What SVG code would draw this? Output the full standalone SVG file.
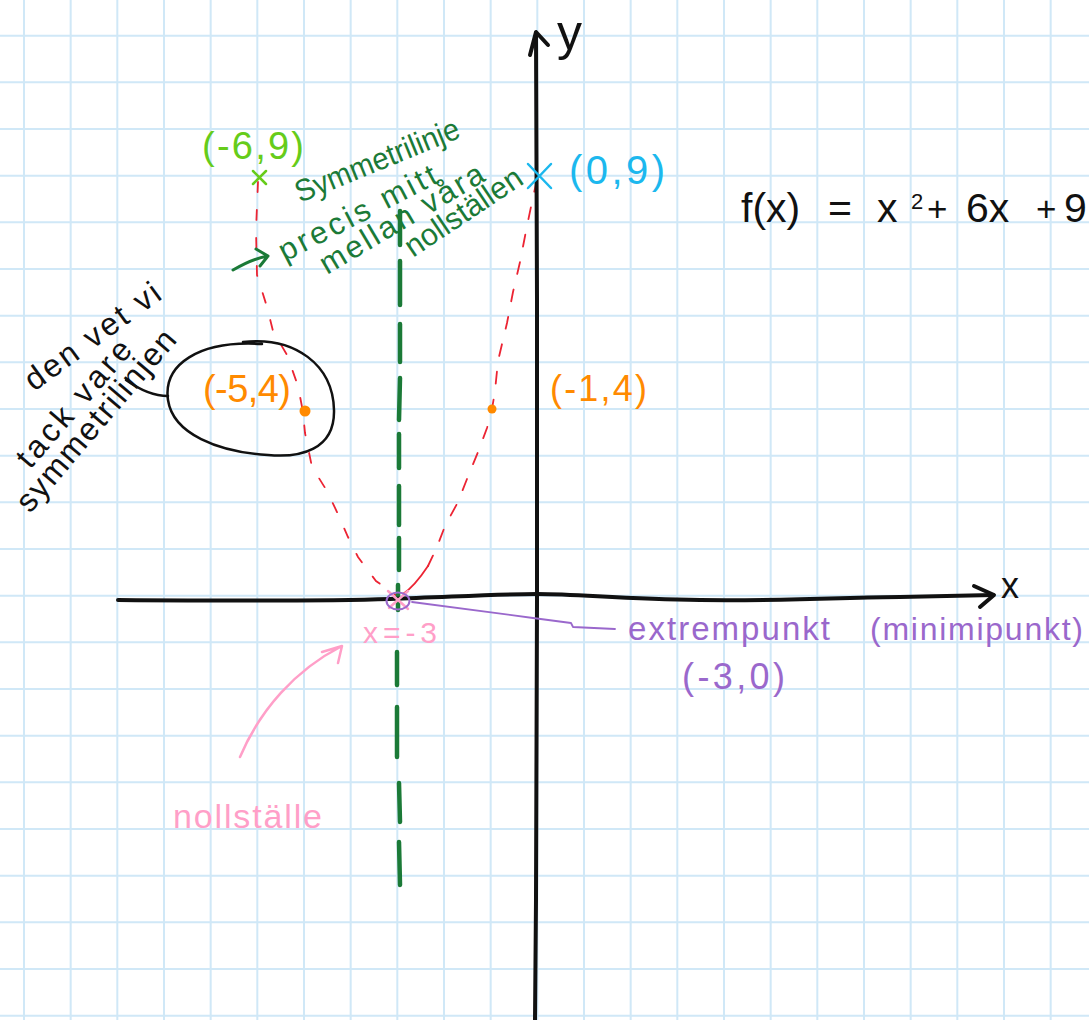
<svg xmlns="http://www.w3.org/2000/svg" width="1089" height="1020" viewBox="0 0 1089 1020">
<style>
text{font-family:"Liberation Sans","DejaVu Sans",sans-serif}
.grid{stroke:#d0e8f7;stroke-width:2;fill:none}
.ax{stroke:#111;stroke-width:4;fill:none;stroke-linecap:round;stroke-linejoin:round}
.bk{fill:#111}
.dg{fill:#1b7a37}
.lg{fill:#66cc1a}
.cy{fill:#1cb8ee}
.or{fill:#ff8a00}
.pk{fill:#ff9fc8}
.pu{fill:#9a68cc}
</style>
<rect width="1089" height="1020" fill="#ffffff"/>
<g id="grid" class="grid">
<path d="M24,0V1020M70.67,0V1020M117.33,0V1020M164,0V1020M210.67,0V1020M257.33,0V1020M304,0V1020M350.67,0V1020M397.33,0V1020M444,0V1020M490.67,0V1020M537.33,0V1020M584,0V1020M630.67,0V1020M677.33,0V1020M724,0V1020M770.67,0V1020M817.33,0V1020M864,0V1020M910.67,0V1020M957.33,0V1020M1004,0V1020M1050.67,0V1020"/>
<path d="M0,35.67H1089M0,82.33H1089M0,129H1089M0,175.67H1089M0,222.33H1089M0,269H1089M0,315.67H1089M0,362.33H1089M0,409H1089M0,455.67H1089M0,502.33H1089M0,549H1089M0,595.67H1089M0,642.33H1089M0,689H1089M0,735.67H1089M0,782.33H1089M0,829H1089M0,875.67H1089M0,922.33H1089M0,969H1089M0,1015.67H1089"/>
</g>
<g id="parabola" fill="none" stroke="#ec2433" stroke-width="1.8" stroke-linecap="round">
<path stroke-dasharray="10 18" d="M258,182 L256,230 L257,275 L267,307 L273,331 L287,355 L298,386 L303,412 L305,433 L312,467 L327,491 L337,512 L348,537 L358,557 L376,581 L397,596"/>
<path stroke-dasharray="12 16" d="M537,180 L533,197 L527,226 L520,262 L513,292 L507,323 L498,361 L495,391 L492,409 L487,428 L478,452 L467,479 L458,502 L445,526 L437,547 L428,566"/>
<path d="M428,566 C 420,578 412,588 403,594"/>
</g>
<g id="symmetry-line" stroke="#1b7a37" stroke-width="4.5" stroke-linecap="round" fill="none">
<path d="M400,211 L400,245 M400,261 L400,305 M400,324 L400,362 M400,378 L399,420 M399,434 L399,468 M399,486 L399,525 M399,538 L399,570 M398,585 L398,610 M397,652 L397,685 M397,707 L397,757 M399,783 L400,822 M399,842 L400,885"/>
</g>
<g id="axes">
<path class="ax" d="M535,1020 L536,900 L537,600 L537,300 L536,33"/>
<path class="ax" d="M530,55 L536,32 L548,45"/>
<path class="ax" d="M118,600 C 250,601 330,601 390,599 C 450,597 500,594 537,594 C 580,594 620,599 700,600 C 800,601 850,597 900,597 L993,595"/>
<path class="ax" d="M974,586 L994,595 L980,607"/>
<text class="bk" x="557" y="50" font-size="50">y</text>
<text class="bk" x="1001" y="598" font-size="36">x</text>
</g>
<g id="formula">
<text class="bk" y="222" font-size="41"><tspan x="741">f(x)</tspan><tspan x="828">=</tspan><tspan x="877">x</tspan><tspan x="911" y="209" font-size="22">2</tspan><tspan x="927" y="221" font-size="35">+</tspan><tspan x="966" y="222">6x</tspan><tspan x="1036" y="221" font-size="35">+</tspan><tspan x="1064" y="222">9</tspan></text>
</g>
<g id="point-0-9">
<path d="M528,164 L551,188 M551,164 L528,188" stroke="#1cb8ee" stroke-width="2.5" stroke-linecap="round"/>
<text class="cy" x="569" y="184" font-size="40" textLength="96" lengthAdjust="spacing">(0,9)</text>
</g>
<g id="point-m6-9">
<path d="M253,171 L266,184 M266,171 L253,184" stroke="#66cc1a" stroke-width="2.5" stroke-linecap="round"/>
<text class="lg" x="202" y="159" font-size="38" textLength="102" lengthAdjust="spacing">(-6,9)</text>
</g>
<g id="point-m5-4">
<circle cx="305" cy="411" r="5.5" fill="#ff8a00"/>
<text class="or" x="203" y="402" font-size="38" textLength="88" lengthAdjust="spacing">(-5,4)</text>
<path d="M243,342 C 295,336 333,365 334,410 C 335,450 300,458 268,455 C 218,452 173,434 168,400 C 163,365 198,340 262,344" fill="none" stroke="#111" stroke-width="2.5" stroke-linecap="round"/>
<path d="M168,396 C 155,396 140,390 126,380" fill="none" stroke="#111" stroke-width="2.5" stroke-linecap="round"/>
</g>
<g id="point-m1-4">
<circle cx="492" cy="409" r="4.5" fill="#ff8a00"/>
<text class="or" x="550" y="401" font-size="36" textLength="97" lengthAdjust="spacing">(-1,4)</text>
</g>
<g id="symmetry-note">
<path d="M233,270 C 245,263 255,258 268,256 M256,249 L268,256 L260,266" fill="none" stroke="#1b7a37" stroke-width="3" stroke-linecap="round" stroke-linejoin="round"/>
<text class="dg" font-size="31" transform="translate(300,203) rotate(-22.2)" textLength="175" lengthAdjust="spacingAndGlyphs">Symmetrilinje</text>
<text class="dg" font-size="31" transform="translate(285,262) rotate(-27.3)" textLength="174" lengthAdjust="spacing">precis  mitt</text>
<text class="dg" font-size="31" transform="translate(327,275) rotate(-30.7)" textLength="186" lengthAdjust="spacing">mellan  våra</text>
<text class="dg" font-size="31" transform="translate(413,258) rotate(-33.8)" textLength="135" lengthAdjust="spacingAndGlyphs">nollställen</text>
</g>
<g id="left-note">
<text class="bk" font-size="32" transform="translate(34,392) rotate(-36)" textLength="160" lengthAdjust="spacing">den vet vi</text>
<text class="bk" font-size="32" transform="translate(30,470) rotate(-49)" textLength="158" lengthAdjust="spacing">tack vare</text>
<text class="bk" font-size="32" transform="translate(30,514) rotate(-49.5)" textLength="228" lengthAdjust="spacing">symmetrilinjen</text>
</g>
<g id="vertex">
<path d="M388,591 L408,609 M408,591 L389,608" stroke="#ff9fc8" stroke-width="2.5" stroke-linecap="round"/>
<ellipse cx="398" cy="601" rx="11.5" ry="8.5" fill="none" stroke="#9a68cc" stroke-width="2"/>
<text class="pk" x="363" y="643" font-size="30" textLength="74" lengthAdjust="spacing">x=-3</text>
</g>
<g id="connectors" fill="none" stroke-linecap="round" stroke-linejoin="round">
<path d="M412,602 L533,618 L571,623 L573,627 L615,629" stroke="#9a68cc" stroke-width="1.8"/>
<path d="M240,757 C 260,710 295,670 342,646 M322,652 L342,646 L338,663" stroke="#ff9fc8" stroke-width="2.5"/>
</g>
<g id="extremum-label">
<text class="pu" x="628" y="640" font-size="33" textLength="202" lengthAdjust="spacing">extrempunkt</text>
<text class="pu" x="870" y="640" font-size="32" textLength="213" lengthAdjust="spacing">(minimipunkt)</text>
<text class="pu" x="682" y="689" font-size="36" textLength="103" lengthAdjust="spacing">(-3,0)</text>
</g>
<g id="zero-label">
<text class="pk" x="173" y="828" font-size="34" textLength="149" lengthAdjust="spacing">nollställe</text>
</g>
</svg>
